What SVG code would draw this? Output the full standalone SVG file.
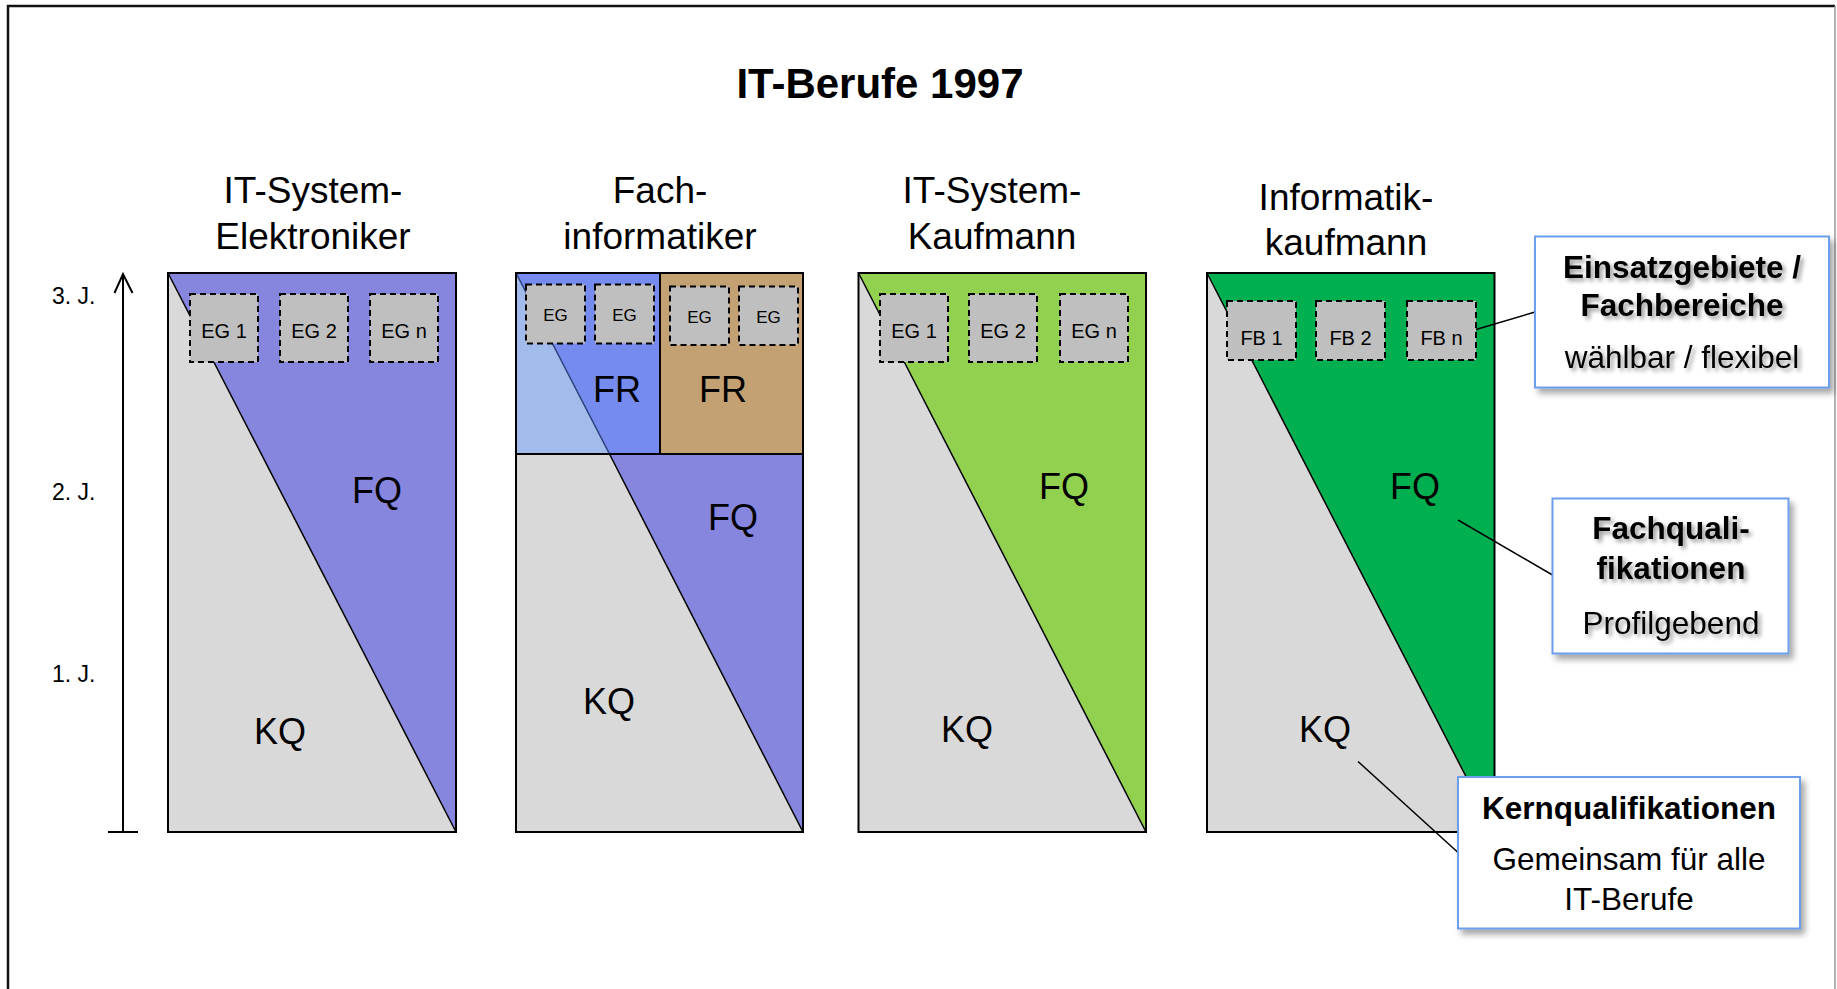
<svg xmlns="http://www.w3.org/2000/svg" width="1837" height="989" viewBox="0 0 1837 989">
<defs>
<style>
text{font-family:"Liberation Sans",Arial,sans-serif;fill:#000}
.hd{font-size:37px;text-anchor:middle}
.lb{font-size:36px;text-anchor:middle}
.eg{font-size:20px;text-anchor:middle}
.egs{font-size:17px;text-anchor:middle}
.yr{font-size:23px}
.cb{font-size:31.5px;font-weight:bold;text-anchor:middle}
.cn{font-size:31.5px;text-anchor:middle}
.out{fill:none;stroke:#000;stroke-width:2}
.kq{fill:#d9d9d9}
.egb{fill:#bfbfbf;stroke:#000;stroke-width:2;stroke-dasharray:6 4}
.diag{stroke:#000;stroke-width:1.5}
.call{fill:#fff;stroke:#6d9eeb;stroke-width:2}
.con{stroke:#000;stroke-width:1.5;fill:none}
</style>
<filter id="bs" x="-10%" y="-10%" width="130%" height="130%">
<feDropShadow dx="4" dy="5" stdDeviation="3" flood-color="#000" flood-opacity="0.35"/>
</filter>
<filter id="ts" x="-10%" y="-20%" width="130%" height="160%">
<feDropShadow dx="3" dy="3" stdDeviation="2" flood-color="#000" flood-opacity="0.4"/>
</filter>
</defs>
<rect width="1837" height="989" fill="#fff"/>
<g id="frame">
<path d="M8,995 V6 H1835" fill="none" stroke="#111" stroke-width="2.5"/>
<path d="M1835,6 V995" fill="none" stroke="#999" stroke-width="1.5"/>
</g>
<g id="title"><text x="880" y="98" font-size="42" font-weight="bold" text-anchor="middle">IT-Berufe 1997</text></g>

<g id="axis">
<path d="M123,274 V832 M108,832 H138 M114.5,293 L123,274 L132.5,293" fill="none" stroke="#000" stroke-width="2"/>
<text class="yr" x="52" y="304">3. J.</text>
<text class="yr" x="52" y="500">2. J.</text>
<text class="yr" x="52" y="682">1. J.</text>
</g>

<g id="it-system-elektroniker">
<text class="hd" x="313" y="203">IT-System-</text>
<text class="hd" x="313" y="249">Elektroniker</text>
<rect class="kq" x="168" y="273" width="288" height="559"/>
<polygon points="168,273 456,273 456,832" fill="#8686df"/>
<line class="diag" x1="168" y1="273" x2="456" y2="832"/>
<rect class="out" x="168" y="273" width="288" height="559"/>
<rect class="egb" x="190" y="294" width="68" height="68"/>
<rect class="egb" x="280" y="294" width="68" height="68"/>
<rect class="egb" x="370" y="294" width="68" height="68"/>
<text class="eg" x="224" y="338">EG 1</text>
<text class="eg" x="314" y="338">EG 2</text>
<text class="eg" x="404" y="338">EG n</text>
<text class="lb" x="377" y="503">FQ</text>
<text class="lb" x="280" y="744">KQ</text>
</g>

<g id="fachinformatiker">
<text class="hd" x="660" y="203">Fach-</text>
<text class="hd" x="660" y="249">informatiker</text>
<rect class="kq" x="516" y="273" width="287" height="559"/>
<polygon points="516,273 609.5,454 516,454" fill="#a1bbea"/>
<polygon points="516,273 660,273 660,454 609.5,454" fill="#768bee"/>
<rect x="660" y="273" width="143" height="181" fill="#c3a173"/>
<polygon points="609.5,454 803,454 803,832" fill="#8686df"/>
<line x1="516" y1="273" x2="609.5" y2="454" stroke="#2b3f7a" stroke-width="1.5"/>
<line class="diag" x1="609.5" y1="454" x2="803" y2="832"/>
<path d="M660,273 V454 M516,454 H803" stroke="#000" stroke-width="2" fill="none"/>
<rect class="out" x="516" y="273" width="287" height="559"/>
<rect class="egb" x="526" y="284.5" width="59" height="59"/>
<rect class="egb" x="595" y="284.5" width="59" height="59"/>
<rect class="egb" x="670" y="286.5" width="59" height="58.5"/>
<rect class="egb" x="739" y="286.5" width="59" height="58.5"/>
<text class="egs" x="555.5" y="320.5">EG</text>
<text class="egs" x="624.5" y="320.5">EG</text>
<text class="egs" x="699.5" y="322.5">EG</text>
<text class="egs" x="768.5" y="322.5">EG</text>
<text class="lb" x="617" y="402" font-size="35">FR</text>
<text class="lb" x="723" y="402" font-size="35">FR</text>
<text class="lb" x="733" y="530">FQ</text>
<text class="lb" x="609" y="714">KQ</text>
</g>

<g id="it-system-kaufmann">
<text class="hd" x="992" y="203">IT-System-</text>
<text class="hd" x="992" y="249">Kaufmann</text>
<rect class="kq" x="858.5" y="273" width="287.5" height="559"/>
<polygon points="858.5,273 1146,273 1146,832" fill="#92d050"/>
<line class="diag" x1="858.5" y1="273" x2="1146" y2="832"/>
<rect class="out" x="858.5" y="273" width="287.5" height="559"/>
<rect class="egb" x="880" y="294" width="68" height="68"/>
<rect class="egb" x="969" y="294" width="68" height="68"/>
<rect class="egb" x="1060" y="294" width="68" height="68"/>
<text class="eg" x="914" y="338">EG 1</text>
<text class="eg" x="1003" y="338">EG 2</text>
<text class="eg" x="1094" y="338">EG n</text>
<text class="lb" x="1064" y="499">FQ</text>
<text class="lb" x="967" y="742">KQ</text>
</g>

<g id="informatikkaufmann">
<text class="hd" x="1346" y="210">Informatik-</text>
<text class="hd" x="1346" y="255">kaufmann</text>
<rect class="kq" x="1207" y="273" width="287.5" height="559"/>
<polygon points="1207,273 1494.5,273 1494.5,832" fill="#00b050"/>
<line class="diag" x1="1207" y1="273" x2="1494.5" y2="832"/>
<rect class="out" x="1207" y="273" width="287.5" height="559"/>
<rect class="egb" x="1227" y="301" width="69" height="59"/>
<rect class="egb" x="1316" y="301" width="69" height="59"/>
<rect class="egb" x="1407" y="301" width="69" height="59"/>
<text class="eg" x="1261.5" y="345">FB 1</text>
<text class="eg" x="1350.5" y="345">FB 2</text>
<text class="eg" x="1441.5" y="345">FB n</text>
<text class="lb" x="1415" y="499">FQ</text>
<text class="lb" x="1325" y="742">KQ</text>
</g>

<g id="connectors">
<line class="con" x1="1476" y1="329.5" x2="1535" y2="312"/>
<line class="con" x1="1458" y1="520" x2="1552.5" y2="575"/>
<line class="con" x1="1358" y1="761.5" x2="1458" y2="852.5"/>
</g>

<g id="callout-einsatzgebiete">
<rect class="call" x="1535" y="236.5" width="294" height="151" filter="url(#bs)"/>
<g filter="url(#ts)">
<text class="cb" x="1682" y="277.5">Einsatzgebiete /</text>
<text class="cb" x="1682" y="315.5">Fachbereiche</text>
<text class="cn" x="1682" y="367.5">wählbar / flexibel</text>
</g>
</g>

<g id="callout-fachqualifikationen">
<rect class="call" x="1552.5" y="498.5" width="236" height="155" filter="url(#bs)"/>
<g filter="url(#ts)">
<text class="cb" x="1671" y="538.5">Fachquali-</text>
<text class="cb" x="1671" y="578.5">fikationen</text>
<text class="cn" x="1671" y="633.5">Profilgebend</text>
</g>
</g>

<g id="callout-kernqualifikationen">
<rect class="call" x="1458" y="777" width="342" height="151.5" filter="url(#bs)"/>
<text class="cb" x="1629" y="818.5">Kernqualifikationen</text>
<text class="cn" x="1629" y="870">Gemeinsam für alle</text>
<text class="cn" x="1629" y="910">IT-Berufe</text>
</g>
</svg>
